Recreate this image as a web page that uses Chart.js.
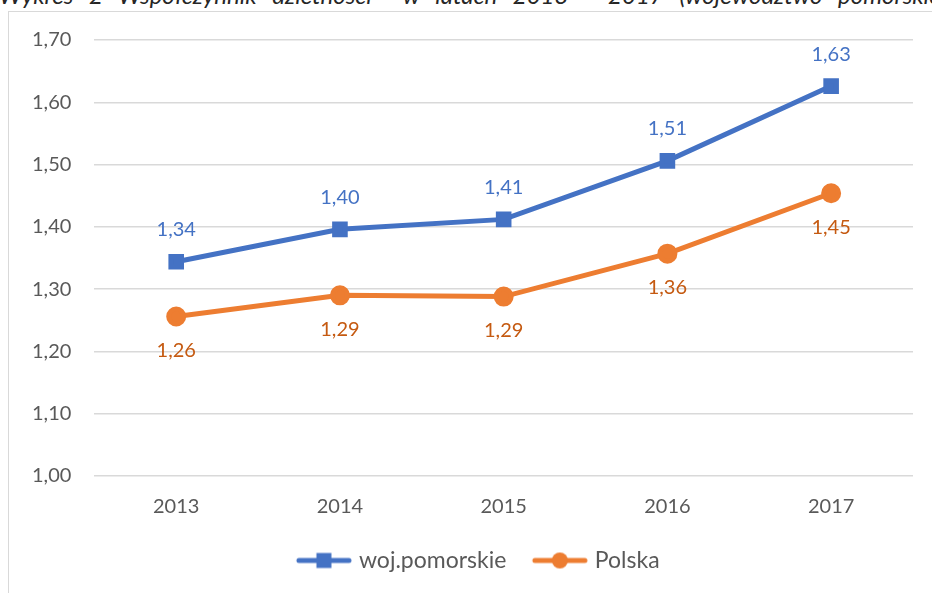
<!DOCTYPE html>
<html>
<head>
<meta charset="utf-8">
<script src="https://cdn.jsdelivr.net/npm/chart.js@4.4.0/dist/chart.umd.min.js"></script>
<style>
	html, body { margin: 0; padding: 0; background: #fff; overflow: hidden; width: 932px; height: 593px; }
	#title {
		position: absolute; left: -1px; top: -17px; white-space: nowrap;
		font-family: Lato, sans-serif; font-style: italic; font-size: 24px; line-height: 24px; word-spacing: 10px; color: #262626;
	}
	#box {
		position: absolute; left: 8px; top: 11px; width: 1000px; height: 620px;
		border: 1px solid #d9d9d9; background: #fff;
	}
	#chart { position: absolute; left: 0; top: 0; }
</style>
</head>
<body>
<div id="title">Wykres 2 Współczynnik dzietności&nbsp; w latach 2013 - 2017 (województwo pomorskie)</div>
<div id="box"><canvas id="chart" width="923" height="581"></canvas></div>
<script>
	const years = ['2013', '2014', '2015', '2016', '2017'];
	const pomorskie = [1.344, 1.396, 1.412, 1.506, 1.626];
	const polska = [1.256, 1.290, 1.288, 1.357, 1.454];
	const yTicks = [1.0, 1.1, 1.2, 1.3, 1.4, 1.5, 1.6, 1.7];

	const blue = '#4472C4';
	const orange = '#ED7D31';
	const fontFamily = 'Lato, sans-serif';

	function plFormat(v) {
		return v.toFixed(2).replace('.', ',');
	}

	// small canvas with line + marker, used as legend symbol
	function legendSymbol(color, style) {
		const c = document.createElement('canvas');
		c.width = 58;
		c.height = 18;
		const g = c.getContext('2d');
		g.strokeStyle = color;
		g.lineWidth = 5;
		g.lineCap = 'round';
		g.beginPath();
		g.moveTo(4, 9);
		g.lineTo(54, 9);
		g.stroke();
		g.fillStyle = color;
		if(style === 'rect') {
			g.fillRect(21.5, 1.5, 15, 15);
		} else {
			g.beginPath();
			g.arc(29, 9, 8, 0, Math.PI * 2);
			g.fill();
		}
		return c;
	}

	// draw value labels above (blue) or below (orange) the points
	const valueLabels = {
		id: 'valueLabels',
		afterDatasetsDraw(chart) {
			const ctx = chart.ctx;
			ctx.save();
			ctx.font = '20px ' + fontFamily;
			ctx.textAlign = 'center';
			ctx.textBaseline = 'middle';
			chart.data.datasets.forEach(function(ds, i) {
				const meta = chart.getDatasetMeta(i);
				ctx.fillStyle = ds.labelColor;
				meta.data.forEach(function(pt, j) {
					ctx.fillText(plFormat(ds.data[j]), pt.x, pt.y + ds.labelOffset);
				});
			});
			ctx.restore();
		}
	};

	// the original legend sits a bit right of the plot centre
	const legendShift = {
		id: 'legendShift',
		afterLayout(chart) {
			if(chart.legend) {
				chart.legend.left += 38;
			}
		}
	};

	const ctx = document.getElementById('chart').getContext('2d');
	new Chart(ctx, {
		type: 'line',
		data: {
			labels: years,
			datasets: [{
				label: 'woj.pomorskie',
				data: pomorskie,
				borderColor: blue,
				backgroundColor: blue,
				borderWidth: 5,
				pointStyle: 'rect',
				pointRadius: 7.5,
				pointHoverRadius: 7.5,
				labelColor: '#4472C4',
				labelOffset: -32,
				symbol: legendSymbol(blue, 'rect')
			}, {
				label: 'Polska',
				data: polska,
				borderColor: orange,
				backgroundColor: orange,
				borderWidth: 5,
				pointStyle: 'circle',
				pointRadius: 7.5,
				pointHoverRadius: 7.5,
				labelColor: '#C55A11',
				labelOffset: 34,
				symbol: legendSymbol(orange, 'circle')
			}]
		},
		options: {
			responsive: false,
			animation: false,
			layout: {
				padding: { left: 0, right: 19, top: 0, bottom: 11 }
			},
			scales: {
				x: {
					offset: true,
					grid: { display: false },
					border: { display: false },
					ticks: { color: '#595959', font: { family: fontFamily, size: 20 }, padding: 11 },
					afterFit(scale) {
						scale.height -= 11;
					}
				},
				y: {
					min: 1.0,
					max: 1.7,
					afterBuildTicks(axis) {
						axis.ticks = yTicks.map(v => ({ value: v }));
					},
					grid: { color: '#d9d9d9', lineWidth: 1.5, drawTicks: false },
					border: { display: false },
					ticks: {
						color: '#595959',
						// small lineHeight keeps the top gridline close to the top
						font: { family: fontFamily, size: 20, lineHeight: 0.5 },
						padding: 23,
						callback: v => plFormat(v)
					}
				}
			},
			plugins: {
				legend: {
					position: 'bottom',
					labels: {
						usePointStyle: true,
						pointStyleWidth: 47,
						padding: 30,
						color: '#595959',
						font: { family: fontFamily, size: 23 },
						generateLabels(chart) {
							return chart.data.datasets.map((ds, i) => ({
								text: ds.label,
								pointStyle: ds.symbol,
								fontColor: '#595959',
								datasetIndex: i,
								hidden: false,
								lineWidth: 0
							}));
						}
					}
				},
				tooltip: { enabled: false }
			}
		},
		plugins: [valueLabels, legendShift]
	});
</script>
</body>
</html>
